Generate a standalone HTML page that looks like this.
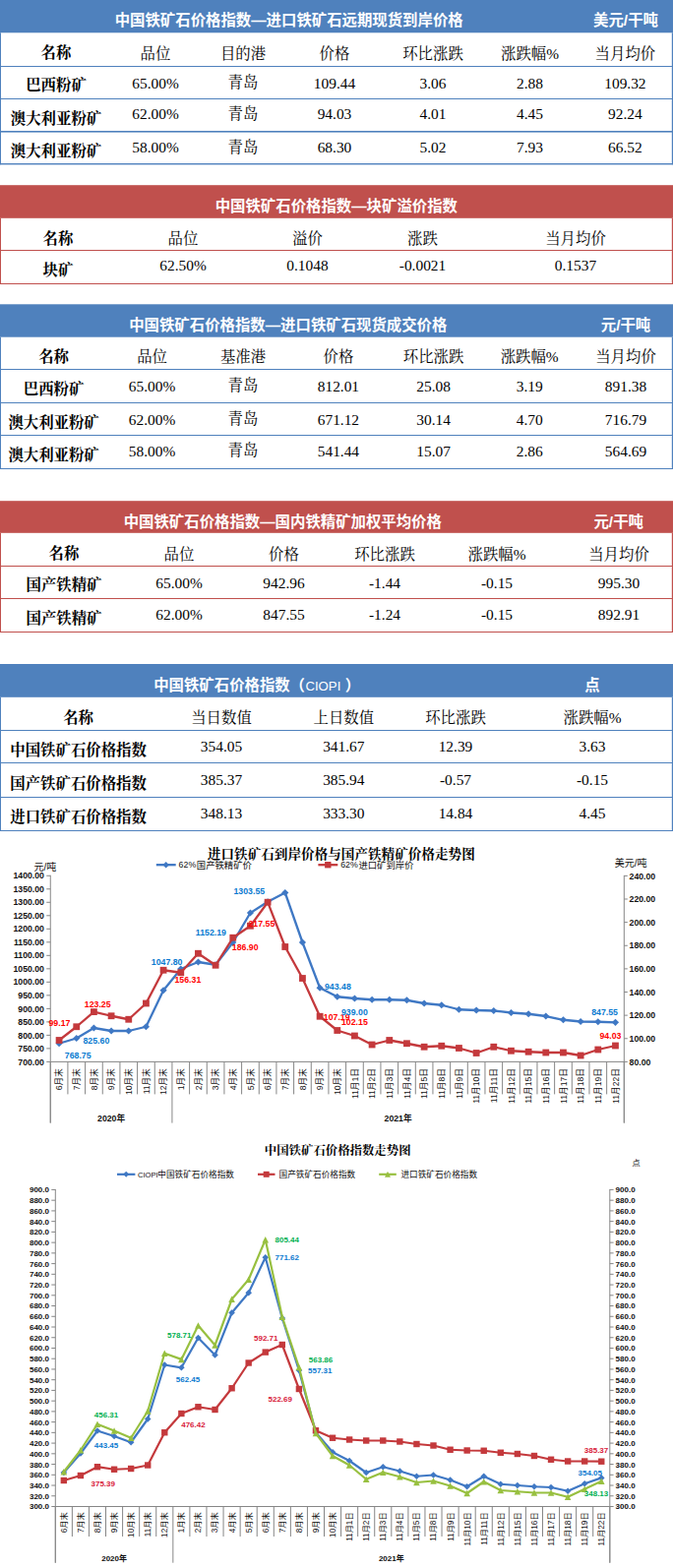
<!DOCTYPE html>
<html><head><meta charset="utf-8"><title>CIOPI</title>
<style>html,body{margin:0;padding:0;background:#fff}svg{display:block}text{font-family:"Liberation Sans","Noto Sans CJK SC",sans-serif}text.mono{font-family:"Liberation Mono",monospace}
.h text{font-family:"Liberation Sans","Noto Sans CJK SC",sans-serif;font-weight:bold;fill:#fff;font-size:15.4px}
.k text{font-family:"Liberation Serif","Noto Serif CJK SC",serif;fill:#000;font-size:15.4px}
.k text.b{font-weight:bold}
.t text{font-family:"Liberation Serif","Noto Serif CJK SC",serif;font-weight:bold;fill:#000}
.c text{font-family:"Liberation Sans","Noto Sans CJK SC",sans-serif;fill:#111}
.cb text{font-family:"Liberation Sans","Noto Sans CJK SC",sans-serif;fill:#111;font-weight:bold}
.d text{font-family:"Liberation Sans","Noto Sans CJK SC",sans-serif;font-weight:bold}
</style>
</head><body>
<svg width="684" height="1594" viewBox="0 0 684 1594">
<rect width="684" height="1594" fill="#fff"/>
<rect x="0" y="0" width="684" height="33.3" fill="#4F81BD"/>
<rect x="0" y="33.3" width="1" height="134.0" fill="#4F81BD"/>
<rect x="682.8" y="33.3" width="1.2" height="134.0" fill="#4F81BD"/>
<rect x="0" y="67" width="684" height="1" fill="#4F81BD"/>
<rect x="0" y="100" width="684" height="1" fill="#4F81BD"/>
<rect x="0" y="133" width="684" height="1.6" fill="#4F81BD"/>
<rect x="0" y="166" width="684" height="1.4" fill="#4F81BD"/>
<g class="h"><text x="116.7" y="26.2">中国铁矿石价格指数—进口铁矿石远期现货到岸价格</text><text x="636.0" y="26.2" text-anchor="middle">美元/干吨</text></g>
<g class="k" text-anchor="middle">
<text class="b" x="57.0" y="59.4">名称</text><text x="158.0" y="59.6">品位</text><text x="247.0" y="59.6">目的港</text><text x="340.0" y="59.6">价格</text><text x="440.0" y="59.6">环比涨跌</text><text x="538.5" y="59.6">涨跌幅%</text><text x="635.4" y="59.6">当月均价</text>
<text class="b" x="57.0" y="91.9">巴西粉矿</text><text x="158.0" y="89.8">65.00%</text><text x="247.0" y="89.4">青岛</text><text x="340.0" y="89.8">109.44</text><text x="440.0" y="89.8">3.06</text><text x="538.5" y="89.8">2.88</text><text x="635.4" y="89.8">109.32</text>
<text class="b" x="57.0" y="125.8">澳大利亚粉矿</text><text x="158.0" y="121.3">62.00%</text><text x="247.0" y="120.9">青岛</text><text x="340.0" y="121.3">94.03</text><text x="440.0" y="121.3">4.01</text><text x="538.5" y="121.3">4.45</text><text x="635.4" y="121.3">92.24</text>
<text class="b" x="57.0" y="158.8">澳大利亚粉矿</text><text x="158.0" y="155.0">58.00%</text><text x="247.0" y="154.6">青岛</text><text x="340.0" y="155.0">68.30</text><text x="440.0" y="155.0">5.02</text><text x="538.5" y="155.0">7.93</text><text x="635.4" y="155.0">66.52</text>
</g>
<rect x="0" y="188.2" width="684" height="33.60000000000002" fill="#C0504D"/>
<rect x="0" y="221.8" width="1" height="66.80000000000001" fill="#C0504D"/>
<rect x="682.8" y="221.8" width="1.2" height="66.80000000000001" fill="#C0504D"/>
<rect x="0" y="254" width="684" height="1" fill="#C0504D"/>
<rect x="0" y="288" width="684" height="1" fill="#C0504D"/>
<g class="h"><text x="218.7" y="215.1">中国铁矿石价格指数—块矿溢价指数</text></g>
<g class="k" text-anchor="middle">
<text class="b" x="59.0" y="247.5">名称</text><text x="186.0" y="247.7">品位</text><text x="312.5" y="247.7">溢价</text><text x="429.5" y="247.7">涨跌</text><text x="585.0" y="247.7">当月均价</text>
<text class="b" x="59.0" y="280.4">块矿</text><text x="186.0" y="275.4">62.50%</text><text x="312.5" y="275.4">0.1048</text><text x="429.5" y="275.4">-0.0021</text><text x="585.0" y="275.4">0.1537</text>
</g>
<rect x="0" y="309.3" width="684" height="33.39999999999998" fill="#4F81BD"/>
<rect x="0" y="342.7" width="1" height="134.0" fill="#4F81BD"/>
<rect x="682.8" y="342.7" width="1.2" height="134.0" fill="#4F81BD"/>
<rect x="0" y="375" width="684" height="1" fill="#4F81BD"/>
<rect x="0" y="409" width="684" height="1" fill="#4F81BD"/>
<rect x="0" y="442" width="684" height="1" fill="#4F81BD"/>
<rect x="0" y="476" width="684" height="1" fill="#4F81BD"/>
<g class="h"><text x="131.2" y="336.1">中国铁矿石价格指数—进口铁矿石现货成交价格</text><text x="636.0" y="336.1" text-anchor="middle">元/干吨</text></g>
<g class="k" text-anchor="middle">
<text class="b" x="54.6" y="368.0">名称</text><text x="154.6" y="368.2">品位</text><text x="247.0" y="368.2">基准港</text><text x="343.9" y="368.2">价格</text><text x="440.6" y="368.2">环比涨跌</text><text x="538.2" y="368.2">涨跌幅%</text><text x="636.0" y="368.2">当月均价</text>
<text class="b" x="54.6" y="401.3">巴西粉矿</text><text x="154.6" y="397.5">65.00%</text><text x="247.0" y="397.1">青岛</text><text x="343.9" y="397.5">812.01</text><text x="440.6" y="397.5">25.08</text><text x="538.2" y="397.5">3.19</text><text x="636.0" y="397.5">891.38</text>
<text class="b" x="54.6" y="435.0">澳大利亚粉矿</text><text x="154.6" y="431.7">62.00%</text><text x="247.0" y="431.3">青岛</text><text x="343.9" y="431.7">671.12</text><text x="440.6" y="431.7">30.14</text><text x="538.2" y="431.7">4.70</text><text x="636.0" y="431.7">716.79</text>
<text class="b" x="54.6" y="468.3">澳大利亚粉矿</text><text x="154.6" y="463.5">58.00%</text><text x="247.0" y="463.1">青岛</text><text x="343.9" y="463.5">541.44</text><text x="440.6" y="463.5">15.07</text><text x="538.2" y="463.5">2.86</text><text x="636.0" y="463.5">564.69</text>
</g>
<rect x="0" y="509.2" width="684" height="32.599999999999966" fill="#C0504D"/>
<rect x="0" y="541.8" width="1" height="100.70000000000005" fill="#C0504D"/>
<rect x="682.8" y="541.8" width="1.2" height="100.70000000000005" fill="#C0504D"/>
<rect x="0" y="575" width="684" height="1" fill="#C0504D"/>
<rect x="0" y="608" width="684" height="1" fill="#C0504D"/>
<rect x="0" y="642" width="684" height="1" fill="#C0504D"/>
<g class="h"><text x="125.7" y="535.6">中国铁矿石价格指数—国内铁精矿加权平均价格</text><text x="628.7" y="535.6" text-anchor="middle">元/干吨</text></g>
<g class="k" text-anchor="middle">
<text class="b" x="65.0" y="568.3">名称</text><text x="182.0" y="568.5">品位</text><text x="288.5" y="568.5">价格</text><text x="391.0" y="568.5">环比涨跌</text><text x="505.0" y="568.5">涨跌幅%</text><text x="629.0" y="568.5">当月均价</text>
<text class="b" x="65.0" y="600.2">国产铁精矿</text><text x="182.0" y="597.9">65.00%</text><text x="288.5" y="597.9">942.96</text><text x="391.0" y="597.9">-1.44</text><text x="505.0" y="597.9">-0.15</text><text x="629.0" y="597.9">995.30</text>
<text class="b" x="65.0" y="634.0">国产铁精矿</text><text x="182.0" y="630.3">62.00%</text><text x="288.5" y="630.3">847.55</text><text x="391.0" y="630.3">-1.24</text><text x="505.0" y="630.3">-0.15</text><text x="629.0" y="630.3">892.91</text>
</g>
<rect x="0" y="675" width="684" height="33.799999999999955" fill="#4F81BD"/>
<rect x="0" y="708.8" width="1" height="135.9000000000001" fill="#4F81BD"/>
<rect x="682.8" y="708.8" width="1.2" height="135.9000000000001" fill="#4F81BD"/>
<rect x="0" y="742" width="684" height="1" fill="#4F81BD"/>
<rect x="0" y="775" width="684" height="1" fill="#4F81BD"/>
<rect x="0" y="810" width="684" height="1" fill="#4F81BD"/>
<rect x="0" y="844" width="684" height="1" fill="#4F81BD"/>
<g class="h"><text x="156.2" y="701.8">中国铁矿石价格指数</text><text x="294.5" y="701.8">（</text><text x="310.4" y="702" style="font-size:13.2px;font-weight:normal">CIOPI</text><text x="350.8" y="701.8">）</text><text x="602.0" y="701.8" text-anchor="middle">点</text></g>
<g class="k" text-anchor="middle">
<text class="b" x="79.6" y="734.5">名称</text><text x="225.0" y="734.7">当日数值</text><text x="349.3" y="734.7">上日数值</text><text x="463.0" y="734.7">环比涨跌</text><text x="602.0" y="734.7">涨跌幅%</text>
<text class="b" x="79.6" y="767.7">中国铁矿石价格指数</text><text x="225.0" y="764.1">354.05</text><text x="349.3" y="764.1">341.67</text><text x="463.0" y="764.1">12.39</text><text x="602.0" y="764.1">3.63</text>
<text class="b" x="79.6" y="801.9">国产铁矿石价格指数</text><text x="225.0" y="797.8">385.37</text><text x="349.3" y="797.8">385.94</text><text x="463.0" y="797.8">-0.57</text><text x="602.0" y="797.8">-0.15</text>
<text class="b" x="79.6" y="835.6">进口铁矿石价格指数</text><text x="225.0" y="831.9">348.13</text><text x="349.3" y="831.9">333.30</text><text x="463.0" y="831.9">14.84</text><text x="602.0" y="831.9">4.45</text>
</g>
<g class="t"><text x="346.8" y="872.8" font-size="13.6" text-anchor="middle">进口铁矿石到岸价格与国产铁精矿价格走势图</text></g>
<line x1="51.25" y1="889.7600000000001" x2="51.25" y2="1141.5" stroke="#868686" stroke-width="1"/>
<line x1="47.25" y1="1079.4" x2="51.25" y2="1079.4" stroke="#868686" stroke-width="1"/>
<line x1="47.25" y1="1065.89" x2="51.25" y2="1065.89" stroke="#868686" stroke-width="1"/>
<line x1="47.25" y1="1052.38" x2="51.25" y2="1052.38" stroke="#868686" stroke-width="1"/>
<line x1="47.25" y1="1038.8700000000001" x2="51.25" y2="1038.8700000000001" stroke="#868686" stroke-width="1"/>
<line x1="47.25" y1="1025.3600000000001" x2="51.25" y2="1025.3600000000001" stroke="#868686" stroke-width="1"/>
<line x1="47.25" y1="1011.8500000000001" x2="51.25" y2="1011.8500000000001" stroke="#868686" stroke-width="1"/>
<line x1="47.25" y1="998.3400000000001" x2="51.25" y2="998.3400000000001" stroke="#868686" stroke-width="1"/>
<line x1="47.25" y1="984.8300000000002" x2="51.25" y2="984.8300000000002" stroke="#868686" stroke-width="1"/>
<line x1="47.25" y1="971.32" x2="51.25" y2="971.32" stroke="#868686" stroke-width="1"/>
<line x1="47.25" y1="957.8100000000001" x2="51.25" y2="957.8100000000001" stroke="#868686" stroke-width="1"/>
<line x1="47.25" y1="944.3000000000001" x2="51.25" y2="944.3000000000001" stroke="#868686" stroke-width="1"/>
<line x1="47.25" y1="930.7900000000001" x2="51.25" y2="930.7900000000001" stroke="#868686" stroke-width="1"/>
<line x1="47.25" y1="917.2800000000001" x2="51.25" y2="917.2800000000001" stroke="#868686" stroke-width="1"/>
<line x1="47.25" y1="903.7700000000001" x2="51.25" y2="903.7700000000001" stroke="#868686" stroke-width="1"/>
<line x1="47.25" y1="890.2600000000001" x2="51.25" y2="890.2600000000001" stroke="#868686" stroke-width="1"/>
<line x1="634.3" y1="889.8600000000001" x2="634.3" y2="1141.5" stroke="#868686" stroke-width="1"/>
<line x1="634.3" y1="1079.4" x2="637.8" y2="1079.4" stroke="#868686" stroke-width="1"/>
<line x1="634.3" y1="1055.77" x2="637.8" y2="1055.77" stroke="#868686" stroke-width="1"/>
<line x1="634.3" y1="1032.14" x2="637.8" y2="1032.14" stroke="#868686" stroke-width="1"/>
<line x1="634.3" y1="1008.5100000000001" x2="637.8" y2="1008.5100000000001" stroke="#868686" stroke-width="1"/>
<line x1="634.3" y1="984.8800000000001" x2="637.8" y2="984.8800000000001" stroke="#868686" stroke-width="1"/>
<line x1="634.3" y1="961.2500000000001" x2="637.8" y2="961.2500000000001" stroke="#868686" stroke-width="1"/>
<line x1="634.3" y1="937.6200000000001" x2="637.8" y2="937.6200000000001" stroke="#868686" stroke-width="1"/>
<line x1="634.3" y1="913.9900000000001" x2="637.8" y2="913.9900000000001" stroke="#868686" stroke-width="1"/>
<line x1="634.3" y1="890.3600000000001" x2="637.8" y2="890.3600000000001" stroke="#868686" stroke-width="1"/>
<line x1="51.25" y1="1079.4" x2="634.3" y2="1079.4" stroke="#868686" stroke-width="1"/>
<line x1="51.25" y1="1079.4" x2="51.25" y2="1141.6" stroke="#868686" stroke-width="1"/>
<line x1="68.91818181818182" y1="1079.4" x2="68.91818181818182" y2="1112.4" stroke="#868686" stroke-width="1"/>
<line x1="86.58636363636364" y1="1079.4" x2="86.58636363636364" y2="1112.4" stroke="#868686" stroke-width="1"/>
<line x1="104.25454545454545" y1="1079.4" x2="104.25454545454545" y2="1112.4" stroke="#868686" stroke-width="1"/>
<line x1="121.92272727272727" y1="1079.4" x2="121.92272727272727" y2="1112.4" stroke="#868686" stroke-width="1"/>
<line x1="139.5909090909091" y1="1079.4" x2="139.5909090909091" y2="1112.4" stroke="#868686" stroke-width="1"/>
<line x1="157.2590909090909" y1="1079.4" x2="157.2590909090909" y2="1112.4" stroke="#868686" stroke-width="1"/>
<line x1="174.92727272727274" y1="1079.4" x2="174.92727272727274" y2="1141.6" stroke="#868686" stroke-width="1"/>
<line x1="192.59545454545454" y1="1079.4" x2="192.59545454545454" y2="1112.4" stroke="#868686" stroke-width="1"/>
<line x1="210.26363636363635" y1="1079.4" x2="210.26363636363635" y2="1112.4" stroke="#868686" stroke-width="1"/>
<line x1="227.9318181818182" y1="1079.4" x2="227.9318181818182" y2="1112.4" stroke="#868686" stroke-width="1"/>
<line x1="245.6" y1="1079.4" x2="245.6" y2="1112.4" stroke="#868686" stroke-width="1"/>
<line x1="263.2681818181818" y1="1079.4" x2="263.2681818181818" y2="1112.4" stroke="#868686" stroke-width="1"/>
<line x1="280.93636363636364" y1="1079.4" x2="280.93636363636364" y2="1112.4" stroke="#868686" stroke-width="1"/>
<line x1="298.6045454545455" y1="1079.4" x2="298.6045454545455" y2="1112.4" stroke="#868686" stroke-width="1"/>
<line x1="316.27272727272725" y1="1079.4" x2="316.27272727272725" y2="1112.4" stroke="#868686" stroke-width="1"/>
<line x1="333.9409090909091" y1="1079.4" x2="333.9409090909091" y2="1112.4" stroke="#868686" stroke-width="1"/>
<line x1="351.6090909090909" y1="1079.4" x2="351.6090909090909" y2="1112.4" stroke="#868686" stroke-width="1"/>
<line x1="369.2772727272727" y1="1079.4" x2="369.2772727272727" y2="1112.4" stroke="#868686" stroke-width="1"/>
<line x1="386.94545454545454" y1="1079.4" x2="386.94545454545454" y2="1112.4" stroke="#868686" stroke-width="1"/>
<line x1="404.6136363636364" y1="1079.4" x2="404.6136363636364" y2="1112.4" stroke="#868686" stroke-width="1"/>
<line x1="422.28181818181815" y1="1079.4" x2="422.28181818181815" y2="1112.4" stroke="#868686" stroke-width="1"/>
<line x1="439.95" y1="1079.4" x2="439.95" y2="1112.4" stroke="#868686" stroke-width="1"/>
<line x1="457.6181818181818" y1="1079.4" x2="457.6181818181818" y2="1112.4" stroke="#868686" stroke-width="1"/>
<line x1="475.2863636363636" y1="1079.4" x2="475.2863636363636" y2="1112.4" stroke="#868686" stroke-width="1"/>
<line x1="492.95454545454544" y1="1079.4" x2="492.95454545454544" y2="1112.4" stroke="#868686" stroke-width="1"/>
<line x1="510.6227272727273" y1="1079.4" x2="510.6227272727273" y2="1112.4" stroke="#868686" stroke-width="1"/>
<line x1="528.290909090909" y1="1079.4" x2="528.290909090909" y2="1112.4" stroke="#868686" stroke-width="1"/>
<line x1="545.959090909091" y1="1079.4" x2="545.959090909091" y2="1112.4" stroke="#868686" stroke-width="1"/>
<line x1="563.6272727272727" y1="1079.4" x2="563.6272727272727" y2="1112.4" stroke="#868686" stroke-width="1"/>
<line x1="581.2954545454545" y1="1079.4" x2="581.2954545454545" y2="1112.4" stroke="#868686" stroke-width="1"/>
<line x1="598.9636363636364" y1="1079.4" x2="598.9636363636364" y2="1112.4" stroke="#868686" stroke-width="1"/>
<line x1="616.6318181818182" y1="1079.4" x2="616.6318181818182" y2="1112.4" stroke="#868686" stroke-width="1"/>
<line x1="634.3" y1="1079.4" x2="634.3" y2="1141.6" stroke="#868686" stroke-width="1"/>
<polyline points="60.08,1060.75 77.75,1055.50 95.42,1045.00 113.09,1048.00 130.76,1048.00 148.43,1043.75 166.09,1006.75 183.76,985.00 201.43,978.00 219.10,980.75 236.77,958.00 254.43,928.00 272.10,916.75 289.77,907.50 307.44,958.00 325.11,1004.25 342.77,1013.25 360.44,1015.00 378.11,1016.25 395.78,1016.25 413.45,1016.75 431.12,1020.00 448.78,1021.75 466.45,1026.25 484.12,1027.00 501.79,1027.50 519.46,1029.50 537.12,1030.75 554.79,1033.00 572.46,1036.75 590.13,1038.50 607.80,1038.75 625.47,1039.30" fill="none" stroke="#3F78C4" stroke-width="2.3" stroke-linejoin="round" stroke-linecap="round"/>
<path d="M60.08,1057.15L63.68,1060.75L60.08,1064.35L56.48,1060.75Z" fill="#3F78C4"/>
<path d="M77.75,1051.90L81.35,1055.50L77.75,1059.10L74.15,1055.50Z" fill="#3F78C4"/>
<path d="M95.42,1041.40L99.02,1045.00L95.42,1048.60L91.82,1045.00Z" fill="#3F78C4"/>
<path d="M113.09,1044.40L116.69,1048.00L113.09,1051.60L109.49,1048.00Z" fill="#3F78C4"/>
<path d="M130.76,1044.40L134.36,1048.00L130.76,1051.60L127.16,1048.00Z" fill="#3F78C4"/>
<path d="M148.43,1040.15L152.03,1043.75L148.43,1047.35L144.83,1043.75Z" fill="#3F78C4"/>
<path d="M166.09,1003.15L169.69,1006.75L166.09,1010.35L162.49,1006.75Z" fill="#3F78C4"/>
<path d="M183.76,981.40L187.36,985.00L183.76,988.60L180.16,985.00Z" fill="#3F78C4"/>
<path d="M201.43,974.40L205.03,978.00L201.43,981.60L197.83,978.00Z" fill="#3F78C4"/>
<path d="M219.10,977.15L222.70,980.75L219.10,984.35L215.50,980.75Z" fill="#3F78C4"/>
<path d="M236.77,954.40L240.37,958.00L236.77,961.60L233.17,958.00Z" fill="#3F78C4"/>
<path d="M254.43,924.40L258.03,928.00L254.43,931.60L250.83,928.00Z" fill="#3F78C4"/>
<path d="M272.10,913.15L275.70,916.75L272.10,920.35L268.50,916.75Z" fill="#3F78C4"/>
<path d="M289.77,903.90L293.37,907.50L289.77,911.10L286.17,907.50Z" fill="#3F78C4"/>
<path d="M307.44,954.40L311.04,958.00L307.44,961.60L303.84,958.00Z" fill="#3F78C4"/>
<path d="M325.11,1000.65L328.71,1004.25L325.11,1007.85L321.51,1004.25Z" fill="#3F78C4"/>
<path d="M342.77,1009.65L346.38,1013.25L342.77,1016.85L339.17,1013.25Z" fill="#3F78C4"/>
<path d="M360.44,1011.40L364.04,1015.00L360.44,1018.60L356.84,1015.00Z" fill="#3F78C4"/>
<path d="M378.11,1012.65L381.71,1016.25L378.11,1019.85L374.51,1016.25Z" fill="#3F78C4"/>
<path d="M395.78,1012.65L399.38,1016.25L395.78,1019.85L392.18,1016.25Z" fill="#3F78C4"/>
<path d="M413.45,1013.15L417.05,1016.75L413.45,1020.35L409.85,1016.75Z" fill="#3F78C4"/>
<path d="M431.12,1016.40L434.72,1020.00L431.12,1023.60L427.52,1020.00Z" fill="#3F78C4"/>
<path d="M448.78,1018.15L452.38,1021.75L448.78,1025.35L445.18,1021.75Z" fill="#3F78C4"/>
<path d="M466.45,1022.65L470.05,1026.25L466.45,1029.85L462.85,1026.25Z" fill="#3F78C4"/>
<path d="M484.12,1023.40L487.72,1027.00L484.12,1030.60L480.52,1027.00Z" fill="#3F78C4"/>
<path d="M501.79,1023.90L505.39,1027.50L501.79,1031.10L498.19,1027.50Z" fill="#3F78C4"/>
<path d="M519.46,1025.90L523.06,1029.50L519.46,1033.10L515.86,1029.50Z" fill="#3F78C4"/>
<path d="M537.12,1027.15L540.73,1030.75L537.12,1034.35L533.52,1030.75Z" fill="#3F78C4"/>
<path d="M554.79,1029.40L558.39,1033.00L554.79,1036.60L551.19,1033.00Z" fill="#3F78C4"/>
<path d="M572.46,1033.15L576.06,1036.75L572.46,1040.35L568.86,1036.75Z" fill="#3F78C4"/>
<path d="M590.13,1034.90L593.73,1038.50L590.13,1042.10L586.53,1038.50Z" fill="#3F78C4"/>
<path d="M607.80,1035.15L611.40,1038.75L607.80,1042.35L604.20,1038.75Z" fill="#3F78C4"/>
<path d="M625.47,1035.70L629.07,1039.30L625.47,1042.90L621.87,1039.30Z" fill="#3F78C4"/>
<polyline points="60.08,1057.50 77.75,1043.75 95.42,1028.60 113.09,1032.75 130.76,1036.25 148.43,1020.00 166.09,986.25 183.76,988.75 201.43,969.25 219.10,981.25 236.77,953.25 254.43,941.25 272.10,917.20 289.77,962.50 307.44,994.50 325.11,1033.25 342.77,1047.50 360.44,1053.00 378.11,1062.00 395.78,1057.50 413.45,1060.75 431.12,1064.25 448.78,1063.25 466.45,1065.50 484.12,1070.50 501.79,1064.25 519.46,1068.25 537.12,1069.25 554.79,1070.00 572.46,1070.00 590.13,1073.00 607.80,1067.00 625.47,1063.00" fill="none" stroke="#C4393C" stroke-width="2.3" stroke-linejoin="round" stroke-linecap="round"/>
<rect x="56.68" y="1054.10" width="6.80" height="6.80" fill="#C4393C"/>
<rect x="74.35" y="1040.35" width="6.80" height="6.80" fill="#C4393C"/>
<rect x="92.02" y="1025.20" width="6.80" height="6.80" fill="#C4393C"/>
<rect x="109.69" y="1029.35" width="6.80" height="6.80" fill="#C4393C"/>
<rect x="127.36" y="1032.85" width="6.80" height="6.80" fill="#C4393C"/>
<rect x="145.03" y="1016.60" width="6.80" height="6.80" fill="#C4393C"/>
<rect x="162.69" y="982.85" width="6.80" height="6.80" fill="#C4393C"/>
<rect x="180.36" y="985.35" width="6.80" height="6.80" fill="#C4393C"/>
<rect x="198.03" y="965.85" width="6.80" height="6.80" fill="#C4393C"/>
<rect x="215.70" y="977.85" width="6.80" height="6.80" fill="#C4393C"/>
<rect x="233.37" y="949.85" width="6.80" height="6.80" fill="#C4393C"/>
<rect x="251.03" y="937.85" width="6.80" height="6.80" fill="#C4393C"/>
<rect x="268.70" y="913.80" width="6.80" height="6.80" fill="#C4393C"/>
<rect x="286.37" y="959.10" width="6.80" height="6.80" fill="#C4393C"/>
<rect x="304.04" y="991.10" width="6.80" height="6.80" fill="#C4393C"/>
<rect x="321.71" y="1029.85" width="6.80" height="6.80" fill="#C4393C"/>
<rect x="339.38" y="1044.10" width="6.80" height="6.80" fill="#C4393C"/>
<rect x="357.04" y="1049.60" width="6.80" height="6.80" fill="#C4393C"/>
<rect x="374.71" y="1058.60" width="6.80" height="6.80" fill="#C4393C"/>
<rect x="392.38" y="1054.10" width="6.80" height="6.80" fill="#C4393C"/>
<rect x="410.05" y="1057.35" width="6.80" height="6.80" fill="#C4393C"/>
<rect x="427.72" y="1060.85" width="6.80" height="6.80" fill="#C4393C"/>
<rect x="445.38" y="1059.85" width="6.80" height="6.80" fill="#C4393C"/>
<rect x="463.05" y="1062.10" width="6.80" height="6.80" fill="#C4393C"/>
<rect x="480.72" y="1067.10" width="6.80" height="6.80" fill="#C4393C"/>
<rect x="498.39" y="1060.85" width="6.80" height="6.80" fill="#C4393C"/>
<rect x="516.06" y="1064.85" width="6.80" height="6.80" fill="#C4393C"/>
<rect x="533.73" y="1065.85" width="6.80" height="6.80" fill="#C4393C"/>
<rect x="551.39" y="1066.60" width="6.80" height="6.80" fill="#C4393C"/>
<rect x="569.06" y="1066.60" width="6.80" height="6.80" fill="#C4393C"/>
<rect x="586.73" y="1069.60" width="6.80" height="6.80" fill="#C4393C"/>
<rect x="604.40" y="1063.60" width="6.80" height="6.80" fill="#C4393C"/>
<rect x="622.07" y="1059.60" width="6.80" height="6.80" fill="#C4393C"/>
<line x1="158.8" y1="879.2" x2="178.7" y2="879.2" stroke="#3F78C4" stroke-width="2.3"/>
<path d="M168.70,876.00L171.90,879.20L168.70,882.40L165.50,879.20Z" fill="#3F78C4"/>
<line x1="323.4" y1="879.2" x2="343.3" y2="879.2" stroke="#C4393C" stroke-width="2.3"/>
<rect x="330.10" y="876.00" width="6.40" height="6.40" fill="#C4393C"/>
<g class="cb" font-size="8.7" text-anchor="end">
<text x="44.9" y="1082.5">700.00</text><text x="44.9" y="1069.0">750.00</text><text x="44.9" y="1055.5">800.00</text><text x="44.9" y="1042.0">850.00</text><text x="44.9" y="1028.5">900.00</text><text x="44.9" y="1015.0">950.00</text><text x="44.9" y="1001.4">1000.00</text><text x="44.9" y="987.9">1050.00</text><text x="44.9" y="974.4">1100.00</text><text x="44.9" y="960.9">1150.00</text><text x="44.9" y="947.4">1200.00</text><text x="44.9" y="933.9">1250.00</text><text x="44.9" y="920.4">1300.00</text><text x="44.9" y="906.9">1350.00</text><text x="44.9" y="893.4">1400.00</text>
</g>
<g class="cb" font-size="8.7" text-anchor="start">
<text x="639.6" y="1082.5">80.00</text><text x="639.6" y="1058.9">100.00</text><text x="639.6" y="1035.2">120.00</text><text x="639.6" y="1011.6">140.00</text><text x="639.6" y="988.0">160.00</text><text x="639.6" y="964.4">180.00</text><text x="639.6" y="940.7">200.00</text><text x="639.6" y="917.1">220.00</text><text x="639.6" y="893.5">240.00</text>
</g>
<g class="c" font-size="10" text-anchor="middle"><text x="45.9" y="885.0">元/吨</text><text x="641.2" y="881.3">美元/吨</text></g>
<g class="c" font-size="8.6" text-anchor="end">
<text x="63.18" y="1086.2" transform="rotate(-90,63.18,1086.2)">6月末</text>
<text x="80.85" y="1086.2" transform="rotate(-90,80.85,1086.2)">7月末</text>
<text x="98.52" y="1086.2" transform="rotate(-90,98.52,1086.2)">8月末</text>
<text x="116.18" y="1086.2" transform="rotate(-90,116.18,1086.2)">9月末</text>
<text x="133.85" y="1086.2" transform="rotate(-90,133.85,1086.2)">10月末</text>
<text x="151.52" y="1086.2" transform="rotate(-90,151.52,1086.2)">11月末</text>
<text x="169.19" y="1086.2" transform="rotate(-90,169.19,1086.2)">12月末</text>
<text x="186.86" y="1086.2" transform="rotate(-90,186.86,1086.2)">1月末</text>
<text x="204.53" y="1086.2" transform="rotate(-90,204.53,1086.2)">2月末</text>
<text x="222.19" y="1086.2" transform="rotate(-90,222.19,1086.2)">3月末</text>
<text x="239.86" y="1086.2" transform="rotate(-90,239.86,1086.2)">4月末</text>
<text x="257.53" y="1086.2" transform="rotate(-90,257.53,1086.2)">5月末</text>
<text x="275.20" y="1086.2" transform="rotate(-90,275.20,1086.2)">6月末</text>
<text x="292.87" y="1086.2" transform="rotate(-90,292.87,1086.2)">7月末</text>
<text x="310.53" y="1086.2" transform="rotate(-90,310.53,1086.2)">8月末</text>
<text x="328.20" y="1086.2" transform="rotate(-90,328.20,1086.2)">9月末</text>
<text x="345.87" y="1086.2" transform="rotate(-90,345.87,1086.2)">10月末</text>
<text x="363.54" y="1086.2" transform="rotate(-90,363.54,1086.2)">11月1日</text>
<text x="381.21" y="1086.2" transform="rotate(-90,381.21,1086.2)">11月2日</text>
<text x="398.88" y="1086.2" transform="rotate(-90,398.88,1086.2)">11月3日</text>
<text x="416.54" y="1086.2" transform="rotate(-90,416.54,1086.2)">11月4日</text>
<text x="434.21" y="1086.2" transform="rotate(-90,434.21,1086.2)">11月5日</text>
<text x="451.88" y="1086.2" transform="rotate(-90,451.88,1086.2)">11月8日</text>
<text x="469.55" y="1086.2" transform="rotate(-90,469.55,1086.2)">11月9日</text>
<text x="487.22" y="1086.2" transform="rotate(-90,487.22,1086.2)">11月10日</text>
<text x="504.88" y="1086.2" transform="rotate(-90,504.88,1086.2)">11月11日</text>
<text x="522.55" y="1086.2" transform="rotate(-90,522.55,1086.2)">11月12日</text>
<text x="540.22" y="1086.2" transform="rotate(-90,540.22,1086.2)">11月15日</text>
<text x="557.89" y="1086.2" transform="rotate(-90,557.89,1086.2)">11月16日</text>
<text x="575.56" y="1086.2" transform="rotate(-90,575.56,1086.2)">11月17日</text>
<text x="593.23" y="1086.2" transform="rotate(-90,593.23,1086.2)">11月18日</text>
<text x="610.89" y="1086.2" transform="rotate(-90,610.89,1086.2)">11月19日</text>
<text x="628.56" y="1086.2" transform="rotate(-90,628.56,1086.2)">11月22日</text>
</g>
<g class="cb" font-size="8.7" text-anchor="middle"><text x="113.1" y="1140.2">2020年</text><text x="404.6" y="1140.2">2021年</text></g>
<g class="c"><text x="181.6" y="882.4" font-size="8.8">62%</text><text x="199.8" y="882.6" font-size="9.35">国产铁精矿价</text><text x="346.2" y="882.4" font-size="8.8">62%</text><text x="364.4" y="882.6" font-size="9.35">进口矿到岸价</text></g>
<g class="d" font-size="8.75">
<text x="49.5" y="1042.7" fill="#FF0000">99.17</text>
<text x="85.8" y="1023.9" fill="#FF0000">123.25</text>
<text x="84.5" y="1061.4" fill="#0A7AD0">825.60</text>
<text x="65.8" y="1076.2" fill="#0A7AD0">768.75</text>
<text x="153.8" y="980.6" fill="#0A7AD0">1047.80</text>
<text x="177.5" y="999.4" fill="#FF0000">156.31</text>
<text x="237.5" y="908.9" fill="#0A7AD0">1303.55</text>
<text x="198.8" y="951.1" fill="#0A7AD0">1152.19</text>
<text x="252.5" y="942.4" fill="#FF0000">217.55</text>
<text x="235.8" y="966.4" fill="#FF0000">186.90</text>
<text x="330.0" y="1006.1" fill="#0A7AD0">943.48</text>
<text x="328.8" y="1037.4" fill="#FF0000">107.19</text>
<text x="347.0" y="1032.4" fill="#0A7AD0">939.00</text>
<text x="347.0" y="1042.4" fill="#FF0000">102.15</text>
<text x="601.2" y="1032.4" fill="#0A7AD0">847.55</text>
<text x="609.5" y="1055.7" fill="#FF0000">94.03</text>
</g>
<g class="t"><text x="343.2" y="1174.2" font-size="12.4" text-anchor="middle">中国铁矿石价格指数走势图</text></g>
<line x1="56.3" y1="1208.95" x2="56.3" y2="1588.7" stroke="#868686" stroke-width="1"/>
<line x1="619.8" y1="1208.95" x2="619.8" y2="1588.7" stroke="#868686" stroke-width="1"/>
<line x1="52.3" y1="1531.5" x2="56.3" y2="1531.5" stroke="#868686" stroke-width="1"/>
<line x1="619.8" y1="1531.5" x2="623.5999999999999" y2="1531.5" stroke="#868686" stroke-width="1"/>
<line x1="52.3" y1="1520.765" x2="56.3" y2="1520.765" stroke="#868686" stroke-width="1"/>
<line x1="619.8" y1="1520.765" x2="623.5999999999999" y2="1520.765" stroke="#868686" stroke-width="1"/>
<line x1="52.3" y1="1510.03" x2="56.3" y2="1510.03" stroke="#868686" stroke-width="1"/>
<line x1="619.8" y1="1510.03" x2="623.5999999999999" y2="1510.03" stroke="#868686" stroke-width="1"/>
<line x1="52.3" y1="1499.295" x2="56.3" y2="1499.295" stroke="#868686" stroke-width="1"/>
<line x1="619.8" y1="1499.295" x2="623.5999999999999" y2="1499.295" stroke="#868686" stroke-width="1"/>
<line x1="52.3" y1="1488.56" x2="56.3" y2="1488.56" stroke="#868686" stroke-width="1"/>
<line x1="619.8" y1="1488.56" x2="623.5999999999999" y2="1488.56" stroke="#868686" stroke-width="1"/>
<line x1="52.3" y1="1477.825" x2="56.3" y2="1477.825" stroke="#868686" stroke-width="1"/>
<line x1="619.8" y1="1477.825" x2="623.5999999999999" y2="1477.825" stroke="#868686" stroke-width="1"/>
<line x1="52.3" y1="1467.09" x2="56.3" y2="1467.09" stroke="#868686" stroke-width="1"/>
<line x1="619.8" y1="1467.09" x2="623.5999999999999" y2="1467.09" stroke="#868686" stroke-width="1"/>
<line x1="52.3" y1="1456.355" x2="56.3" y2="1456.355" stroke="#868686" stroke-width="1"/>
<line x1="619.8" y1="1456.355" x2="623.5999999999999" y2="1456.355" stroke="#868686" stroke-width="1"/>
<line x1="52.3" y1="1445.62" x2="56.3" y2="1445.62" stroke="#868686" stroke-width="1"/>
<line x1="619.8" y1="1445.62" x2="623.5999999999999" y2="1445.62" stroke="#868686" stroke-width="1"/>
<line x1="52.3" y1="1434.885" x2="56.3" y2="1434.885" stroke="#868686" stroke-width="1"/>
<line x1="619.8" y1="1434.885" x2="623.5999999999999" y2="1434.885" stroke="#868686" stroke-width="1"/>
<line x1="52.3" y1="1424.15" x2="56.3" y2="1424.15" stroke="#868686" stroke-width="1"/>
<line x1="619.8" y1="1424.15" x2="623.5999999999999" y2="1424.15" stroke="#868686" stroke-width="1"/>
<line x1="52.3" y1="1413.415" x2="56.3" y2="1413.415" stroke="#868686" stroke-width="1"/>
<line x1="619.8" y1="1413.415" x2="623.5999999999999" y2="1413.415" stroke="#868686" stroke-width="1"/>
<line x1="52.3" y1="1402.68" x2="56.3" y2="1402.68" stroke="#868686" stroke-width="1"/>
<line x1="619.8" y1="1402.68" x2="623.5999999999999" y2="1402.68" stroke="#868686" stroke-width="1"/>
<line x1="52.3" y1="1391.945" x2="56.3" y2="1391.945" stroke="#868686" stroke-width="1"/>
<line x1="619.8" y1="1391.945" x2="623.5999999999999" y2="1391.945" stroke="#868686" stroke-width="1"/>
<line x1="52.3" y1="1381.21" x2="56.3" y2="1381.21" stroke="#868686" stroke-width="1"/>
<line x1="619.8" y1="1381.21" x2="623.5999999999999" y2="1381.21" stroke="#868686" stroke-width="1"/>
<line x1="52.3" y1="1370.475" x2="56.3" y2="1370.475" stroke="#868686" stroke-width="1"/>
<line x1="619.8" y1="1370.475" x2="623.5999999999999" y2="1370.475" stroke="#868686" stroke-width="1"/>
<line x1="52.3" y1="1359.74" x2="56.3" y2="1359.74" stroke="#868686" stroke-width="1"/>
<line x1="619.8" y1="1359.74" x2="623.5999999999999" y2="1359.74" stroke="#868686" stroke-width="1"/>
<line x1="52.3" y1="1349.005" x2="56.3" y2="1349.005" stroke="#868686" stroke-width="1"/>
<line x1="619.8" y1="1349.005" x2="623.5999999999999" y2="1349.005" stroke="#868686" stroke-width="1"/>
<line x1="52.3" y1="1338.27" x2="56.3" y2="1338.27" stroke="#868686" stroke-width="1"/>
<line x1="619.8" y1="1338.27" x2="623.5999999999999" y2="1338.27" stroke="#868686" stroke-width="1"/>
<line x1="52.3" y1="1327.535" x2="56.3" y2="1327.535" stroke="#868686" stroke-width="1"/>
<line x1="619.8" y1="1327.535" x2="623.5999999999999" y2="1327.535" stroke="#868686" stroke-width="1"/>
<line x1="52.3" y1="1316.8" x2="56.3" y2="1316.8" stroke="#868686" stroke-width="1"/>
<line x1="619.8" y1="1316.8" x2="623.5999999999999" y2="1316.8" stroke="#868686" stroke-width="1"/>
<line x1="52.3" y1="1306.065" x2="56.3" y2="1306.065" stroke="#868686" stroke-width="1"/>
<line x1="619.8" y1="1306.065" x2="623.5999999999999" y2="1306.065" stroke="#868686" stroke-width="1"/>
<line x1="52.3" y1="1295.33" x2="56.3" y2="1295.33" stroke="#868686" stroke-width="1"/>
<line x1="619.8" y1="1295.33" x2="623.5999999999999" y2="1295.33" stroke="#868686" stroke-width="1"/>
<line x1="52.3" y1="1284.595" x2="56.3" y2="1284.595" stroke="#868686" stroke-width="1"/>
<line x1="619.8" y1="1284.595" x2="623.5999999999999" y2="1284.595" stroke="#868686" stroke-width="1"/>
<line x1="52.3" y1="1273.8600000000001" x2="56.3" y2="1273.8600000000001" stroke="#868686" stroke-width="1"/>
<line x1="619.8" y1="1273.8600000000001" x2="623.5999999999999" y2="1273.8600000000001" stroke="#868686" stroke-width="1"/>
<line x1="52.3" y1="1263.125" x2="56.3" y2="1263.125" stroke="#868686" stroke-width="1"/>
<line x1="619.8" y1="1263.125" x2="623.5999999999999" y2="1263.125" stroke="#868686" stroke-width="1"/>
<line x1="52.3" y1="1252.3899999999999" x2="56.3" y2="1252.3899999999999" stroke="#868686" stroke-width="1"/>
<line x1="619.8" y1="1252.3899999999999" x2="623.5999999999999" y2="1252.3899999999999" stroke="#868686" stroke-width="1"/>
<line x1="52.3" y1="1241.655" x2="56.3" y2="1241.655" stroke="#868686" stroke-width="1"/>
<line x1="619.8" y1="1241.655" x2="623.5999999999999" y2="1241.655" stroke="#868686" stroke-width="1"/>
<line x1="52.3" y1="1230.92" x2="56.3" y2="1230.92" stroke="#868686" stroke-width="1"/>
<line x1="619.8" y1="1230.92" x2="623.5999999999999" y2="1230.92" stroke="#868686" stroke-width="1"/>
<line x1="52.3" y1="1220.185" x2="56.3" y2="1220.185" stroke="#868686" stroke-width="1"/>
<line x1="619.8" y1="1220.185" x2="623.5999999999999" y2="1220.185" stroke="#868686" stroke-width="1"/>
<line x1="52.3" y1="1209.45" x2="56.3" y2="1209.45" stroke="#868686" stroke-width="1"/>
<line x1="619.8" y1="1209.45" x2="623.5999999999999" y2="1209.45" stroke="#868686" stroke-width="1"/>
<line x1="56.3" y1="1531.5" x2="619.8" y2="1531.5" stroke="#868686" stroke-width="1"/>
<line x1="56.3" y1="1531.5" x2="56.3" y2="1588.7" stroke="#868686" stroke-width="1"/>
<line x1="73.37575757575758" y1="1531.5" x2="73.37575757575758" y2="1562" stroke="#868686" stroke-width="1"/>
<line x1="90.45151515151514" y1="1531.5" x2="90.45151515151514" y2="1562" stroke="#868686" stroke-width="1"/>
<line x1="107.52727272727272" y1="1531.5" x2="107.52727272727272" y2="1562" stroke="#868686" stroke-width="1"/>
<line x1="124.6030303030303" y1="1531.5" x2="124.6030303030303" y2="1562" stroke="#868686" stroke-width="1"/>
<line x1="141.6787878787879" y1="1531.5" x2="141.6787878787879" y2="1562" stroke="#868686" stroke-width="1"/>
<line x1="158.75454545454545" y1="1531.5" x2="158.75454545454545" y2="1562" stroke="#868686" stroke-width="1"/>
<line x1="175.830303030303" y1="1531.5" x2="175.830303030303" y2="1588.7" stroke="#868686" stroke-width="1"/>
<line x1="192.90606060606058" y1="1531.5" x2="192.90606060606058" y2="1562" stroke="#868686" stroke-width="1"/>
<line x1="209.98181818181814" y1="1531.5" x2="209.98181818181814" y2="1562" stroke="#868686" stroke-width="1"/>
<line x1="227.05757575757576" y1="1531.5" x2="227.05757575757576" y2="1562" stroke="#868686" stroke-width="1"/>
<line x1="244.13333333333333" y1="1531.5" x2="244.13333333333333" y2="1562" stroke="#868686" stroke-width="1"/>
<line x1="261.2090909090909" y1="1531.5" x2="261.2090909090909" y2="1562" stroke="#868686" stroke-width="1"/>
<line x1="278.28484848484845" y1="1531.5" x2="278.28484848484845" y2="1562" stroke="#868686" stroke-width="1"/>
<line x1="295.360606060606" y1="1531.5" x2="295.360606060606" y2="1562" stroke="#868686" stroke-width="1"/>
<line x1="312.43636363636364" y1="1531.5" x2="312.43636363636364" y2="1562" stroke="#868686" stroke-width="1"/>
<line x1="329.5121212121212" y1="1531.5" x2="329.5121212121212" y2="1562" stroke="#868686" stroke-width="1"/>
<line x1="346.58787878787876" y1="1531.5" x2="346.58787878787876" y2="1562" stroke="#868686" stroke-width="1"/>
<line x1="363.66363636363633" y1="1531.5" x2="363.66363636363633" y2="1562" stroke="#868686" stroke-width="1"/>
<line x1="380.73939393939395" y1="1531.5" x2="380.73939393939395" y2="1562" stroke="#868686" stroke-width="1"/>
<line x1="397.8151515151515" y1="1531.5" x2="397.8151515151515" y2="1562" stroke="#868686" stroke-width="1"/>
<line x1="414.8909090909091" y1="1531.5" x2="414.8909090909091" y2="1562" stroke="#868686" stroke-width="1"/>
<line x1="431.96666666666664" y1="1531.5" x2="431.96666666666664" y2="1562" stroke="#868686" stroke-width="1"/>
<line x1="449.0424242424242" y1="1531.5" x2="449.0424242424242" y2="1562" stroke="#868686" stroke-width="1"/>
<line x1="466.11818181818177" y1="1531.5" x2="466.11818181818177" y2="1562" stroke="#868686" stroke-width="1"/>
<line x1="483.1939393939394" y1="1531.5" x2="483.1939393939394" y2="1562" stroke="#868686" stroke-width="1"/>
<line x1="500.26969696969695" y1="1531.5" x2="500.26969696969695" y2="1562" stroke="#868686" stroke-width="1"/>
<line x1="517.3454545454545" y1="1531.5" x2="517.3454545454545" y2="1562" stroke="#868686" stroke-width="1"/>
<line x1="534.4212121212121" y1="1531.5" x2="534.4212121212121" y2="1562" stroke="#868686" stroke-width="1"/>
<line x1="551.4969696969696" y1="1531.5" x2="551.4969696969696" y2="1562" stroke="#868686" stroke-width="1"/>
<line x1="568.5727272727272" y1="1531.5" x2="568.5727272727272" y2="1562" stroke="#868686" stroke-width="1"/>
<line x1="585.6484848484847" y1="1531.5" x2="585.6484848484847" y2="1562" stroke="#868686" stroke-width="1"/>
<line x1="602.7242424242423" y1="1531.5" x2="602.7242424242423" y2="1562" stroke="#868686" stroke-width="1"/>
<line x1="619.8" y1="1531.5" x2="619.8" y2="1588.7" stroke="#868686" stroke-width="1"/>
<polyline points="64.84,1497.00 81.91,1477.50 98.99,1454.50 116.07,1460.00 133.14,1466.25 150.22,1442.50 167.29,1387.50 184.37,1390.30 201.44,1360.00 218.52,1377.50 235.60,1334.50 252.67,1314.25 269.75,1278.30 286.82,1340.00 303.90,1393.00 320.97,1456.25 338.05,1476.25 355.13,1485.00 372.20,1497.00 389.28,1491.25 406.35,1495.50 423.43,1500.75 440.50,1499.50 457.58,1504.50 474.66,1511.25 491.73,1500.75 508.81,1508.75 525.88,1510.00 542.96,1511.25 560.03,1512.00 577.11,1515.75 594.19,1508.25 611.26,1502.40" fill="none" stroke="#3F78C4" stroke-width="2.2" stroke-linejoin="round" stroke-linecap="round"/>
<path d="M64.84,1493.70L68.14,1497.00L64.84,1500.30L61.54,1497.00Z" fill="#3F78C4"/>
<path d="M81.91,1474.20L85.21,1477.50L81.91,1480.80L78.61,1477.50Z" fill="#3F78C4"/>
<path d="M98.99,1451.20L102.29,1454.50L98.99,1457.80L95.69,1454.50Z" fill="#3F78C4"/>
<path d="M116.07,1456.70L119.37,1460.00L116.07,1463.30L112.77,1460.00Z" fill="#3F78C4"/>
<path d="M133.14,1462.95L136.44,1466.25L133.14,1469.55L129.84,1466.25Z" fill="#3F78C4"/>
<path d="M150.22,1439.20L153.52,1442.50L150.22,1445.80L146.92,1442.50Z" fill="#3F78C4"/>
<path d="M167.29,1384.20L170.59,1387.50L167.29,1390.80L163.99,1387.50Z" fill="#3F78C4"/>
<path d="M184.37,1387.00L187.67,1390.30L184.37,1393.60L181.07,1390.30Z" fill="#3F78C4"/>
<path d="M201.44,1356.70L204.74,1360.00L201.44,1363.30L198.14,1360.00Z" fill="#3F78C4"/>
<path d="M218.52,1374.20L221.82,1377.50L218.52,1380.80L215.22,1377.50Z" fill="#3F78C4"/>
<path d="M235.60,1331.20L238.90,1334.50L235.60,1337.80L232.30,1334.50Z" fill="#3F78C4"/>
<path d="M252.67,1310.95L255.97,1314.25L252.67,1317.55L249.37,1314.25Z" fill="#3F78C4"/>
<path d="M269.75,1275.00L273.05,1278.30L269.75,1281.60L266.45,1278.30Z" fill="#3F78C4"/>
<path d="M286.82,1336.70L290.12,1340.00L286.82,1343.30L283.52,1340.00Z" fill="#3F78C4"/>
<path d="M303.90,1389.70L307.20,1393.00L303.90,1396.30L300.60,1393.00Z" fill="#3F78C4"/>
<path d="M320.97,1452.95L324.27,1456.25L320.97,1459.55L317.67,1456.25Z" fill="#3F78C4"/>
<path d="M338.05,1472.95L341.35,1476.25L338.05,1479.55L334.75,1476.25Z" fill="#3F78C4"/>
<path d="M355.13,1481.70L358.43,1485.00L355.13,1488.30L351.83,1485.00Z" fill="#3F78C4"/>
<path d="M372.20,1493.70L375.50,1497.00L372.20,1500.30L368.90,1497.00Z" fill="#3F78C4"/>
<path d="M389.28,1487.95L392.58,1491.25L389.28,1494.55L385.98,1491.25Z" fill="#3F78C4"/>
<path d="M406.35,1492.20L409.65,1495.50L406.35,1498.80L403.05,1495.50Z" fill="#3F78C4"/>
<path d="M423.43,1497.45L426.73,1500.75L423.43,1504.05L420.13,1500.75Z" fill="#3F78C4"/>
<path d="M440.50,1496.20L443.80,1499.50L440.50,1502.80L437.20,1499.50Z" fill="#3F78C4"/>
<path d="M457.58,1501.20L460.88,1504.50L457.58,1507.80L454.28,1504.50Z" fill="#3F78C4"/>
<path d="M474.66,1507.95L477.96,1511.25L474.66,1514.55L471.36,1511.25Z" fill="#3F78C4"/>
<path d="M491.73,1497.45L495.03,1500.75L491.73,1504.05L488.43,1500.75Z" fill="#3F78C4"/>
<path d="M508.81,1505.45L512.11,1508.75L508.81,1512.05L505.51,1508.75Z" fill="#3F78C4"/>
<path d="M525.88,1506.70L529.18,1510.00L525.88,1513.30L522.58,1510.00Z" fill="#3F78C4"/>
<path d="M542.96,1507.95L546.26,1511.25L542.96,1514.55L539.66,1511.25Z" fill="#3F78C4"/>
<path d="M560.03,1508.70L563.33,1512.00L560.03,1515.30L556.73,1512.00Z" fill="#3F78C4"/>
<path d="M577.11,1512.45L580.41,1515.75L577.11,1519.05L573.81,1515.75Z" fill="#3F78C4"/>
<path d="M594.19,1504.95L597.49,1508.25L594.19,1511.55L590.89,1508.25Z" fill="#3F78C4"/>
<path d="M611.26,1499.10L614.56,1502.40L611.26,1505.70L607.96,1502.40Z" fill="#3F78C4"/>
<polyline points="64.84,1505.00 81.91,1500.00 98.99,1491.20 116.07,1493.75 133.14,1493.00 150.22,1489.50 167.29,1456.25 184.37,1437.00 201.44,1430.25 218.52,1433.00 235.60,1411.25 252.67,1385.50 269.75,1374.60 286.82,1367.00 303.90,1412.00 320.97,1454.25 338.05,1461.75 355.13,1463.50 372.20,1464.50 389.28,1464.50 406.35,1465.50 423.43,1468.00 440.50,1469.50 457.58,1473.75 474.66,1474.50 491.73,1474.75 508.81,1476.75 525.88,1478.00 542.96,1480.00 560.03,1483.75 577.11,1485.50 594.19,1485.50 611.26,1485.70" fill="none" stroke="#C4393C" stroke-width="2.2" stroke-linejoin="round" stroke-linecap="round"/>
<rect x="61.64" y="1501.80" width="6.40" height="6.40" fill="#C4393C"/>
<rect x="78.71" y="1496.80" width="6.40" height="6.40" fill="#C4393C"/>
<rect x="95.79" y="1488.00" width="6.40" height="6.40" fill="#C4393C"/>
<rect x="112.87" y="1490.55" width="6.40" height="6.40" fill="#C4393C"/>
<rect x="129.94" y="1489.80" width="6.40" height="6.40" fill="#C4393C"/>
<rect x="147.02" y="1486.30" width="6.40" height="6.40" fill="#C4393C"/>
<rect x="164.09" y="1453.05" width="6.40" height="6.40" fill="#C4393C"/>
<rect x="181.17" y="1433.80" width="6.40" height="6.40" fill="#C4393C"/>
<rect x="198.24" y="1427.05" width="6.40" height="6.40" fill="#C4393C"/>
<rect x="215.32" y="1429.80" width="6.40" height="6.40" fill="#C4393C"/>
<rect x="232.40" y="1408.05" width="6.40" height="6.40" fill="#C4393C"/>
<rect x="249.47" y="1382.30" width="6.40" height="6.40" fill="#C4393C"/>
<rect x="266.55" y="1371.40" width="6.40" height="6.40" fill="#C4393C"/>
<rect x="283.62" y="1363.80" width="6.40" height="6.40" fill="#C4393C"/>
<rect x="300.70" y="1408.80" width="6.40" height="6.40" fill="#C4393C"/>
<rect x="317.77" y="1451.05" width="6.40" height="6.40" fill="#C4393C"/>
<rect x="334.85" y="1458.55" width="6.40" height="6.40" fill="#C4393C"/>
<rect x="351.93" y="1460.30" width="6.40" height="6.40" fill="#C4393C"/>
<rect x="369.00" y="1461.30" width="6.40" height="6.40" fill="#C4393C"/>
<rect x="386.08" y="1461.30" width="6.40" height="6.40" fill="#C4393C"/>
<rect x="403.15" y="1462.30" width="6.40" height="6.40" fill="#C4393C"/>
<rect x="420.23" y="1464.80" width="6.40" height="6.40" fill="#C4393C"/>
<rect x="437.30" y="1466.30" width="6.40" height="6.40" fill="#C4393C"/>
<rect x="454.38" y="1470.55" width="6.40" height="6.40" fill="#C4393C"/>
<rect x="471.46" y="1471.30" width="6.40" height="6.40" fill="#C4393C"/>
<rect x="488.53" y="1471.55" width="6.40" height="6.40" fill="#C4393C"/>
<rect x="505.61" y="1473.55" width="6.40" height="6.40" fill="#C4393C"/>
<rect x="522.68" y="1474.80" width="6.40" height="6.40" fill="#C4393C"/>
<rect x="539.76" y="1476.80" width="6.40" height="6.40" fill="#C4393C"/>
<rect x="556.83" y="1480.55" width="6.40" height="6.40" fill="#C4393C"/>
<rect x="573.91" y="1482.30" width="6.40" height="6.40" fill="#C4393C"/>
<rect x="590.99" y="1482.30" width="6.40" height="6.40" fill="#C4393C"/>
<rect x="608.06" y="1482.50" width="6.40" height="6.40" fill="#C4393C"/>
<polyline points="64.84,1496.25 81.91,1474.25 98.99,1447.80 116.07,1454.50 133.14,1461.75 150.22,1434.50 167.29,1375.75 184.37,1381.90 201.44,1347.50 218.52,1367.50 235.60,1320.75 252.67,1300.75 269.75,1260.20 286.82,1338.75 303.90,1390.00 320.97,1457.00 338.05,1480.00 355.13,1489.50 372.20,1503.75 389.28,1496.75 406.35,1501.25 423.43,1507.00 440.50,1505.50 457.58,1510.50 474.66,1518.00 491.73,1506.25 508.81,1515.00 525.88,1516.25 542.96,1517.50 560.03,1517.50 577.11,1521.75 594.19,1513.75 611.26,1505.70" fill="none" stroke="#98C040" stroke-width="2.2" stroke-linejoin="round" stroke-linecap="round"/>
<path d="M64.84,1492.95L68.14,1499.55L61.54,1499.55Z" fill="#98C040"/>
<path d="M81.91,1470.95L85.21,1477.55L78.61,1477.55Z" fill="#98C040"/>
<path d="M98.99,1444.50L102.29,1451.10L95.69,1451.10Z" fill="#98C040"/>
<path d="M116.07,1451.20L119.37,1457.80L112.77,1457.80Z" fill="#98C040"/>
<path d="M133.14,1458.45L136.44,1465.05L129.84,1465.05Z" fill="#98C040"/>
<path d="M150.22,1431.20L153.52,1437.80L146.92,1437.80Z" fill="#98C040"/>
<path d="M167.29,1372.45L170.59,1379.05L163.99,1379.05Z" fill="#98C040"/>
<path d="M184.37,1378.60L187.67,1385.20L181.07,1385.20Z" fill="#98C040"/>
<path d="M201.44,1344.20L204.74,1350.80L198.14,1350.80Z" fill="#98C040"/>
<path d="M218.52,1364.20L221.82,1370.80L215.22,1370.80Z" fill="#98C040"/>
<path d="M235.60,1317.45L238.90,1324.05L232.30,1324.05Z" fill="#98C040"/>
<path d="M252.67,1297.45L255.97,1304.05L249.37,1304.05Z" fill="#98C040"/>
<path d="M269.75,1256.90L273.05,1263.50L266.45,1263.50Z" fill="#98C040"/>
<path d="M286.82,1335.45L290.12,1342.05L283.52,1342.05Z" fill="#98C040"/>
<path d="M303.90,1386.70L307.20,1393.30L300.60,1393.30Z" fill="#98C040"/>
<path d="M320.97,1453.70L324.27,1460.30L317.67,1460.30Z" fill="#98C040"/>
<path d="M338.05,1476.70L341.35,1483.30L334.75,1483.30Z" fill="#98C040"/>
<path d="M355.13,1486.20L358.43,1492.80L351.83,1492.80Z" fill="#98C040"/>
<path d="M372.20,1500.45L375.50,1507.05L368.90,1507.05Z" fill="#98C040"/>
<path d="M389.28,1493.45L392.58,1500.05L385.98,1500.05Z" fill="#98C040"/>
<path d="M406.35,1497.95L409.65,1504.55L403.05,1504.55Z" fill="#98C040"/>
<path d="M423.43,1503.70L426.73,1510.30L420.13,1510.30Z" fill="#98C040"/>
<path d="M440.50,1502.20L443.80,1508.80L437.20,1508.80Z" fill="#98C040"/>
<path d="M457.58,1507.20L460.88,1513.80L454.28,1513.80Z" fill="#98C040"/>
<path d="M474.66,1514.70L477.96,1521.30L471.36,1521.30Z" fill="#98C040"/>
<path d="M491.73,1502.95L495.03,1509.55L488.43,1509.55Z" fill="#98C040"/>
<path d="M508.81,1511.70L512.11,1518.30L505.51,1518.30Z" fill="#98C040"/>
<path d="M525.88,1512.95L529.18,1519.55L522.58,1519.55Z" fill="#98C040"/>
<path d="M542.96,1514.20L546.26,1520.80L539.66,1520.80Z" fill="#98C040"/>
<path d="M560.03,1514.20L563.33,1520.80L556.73,1520.80Z" fill="#98C040"/>
<path d="M577.11,1518.45L580.41,1525.05L573.81,1525.05Z" fill="#98C040"/>
<path d="M594.19,1510.45L597.49,1517.05L590.89,1517.05Z" fill="#98C040"/>
<path d="M611.26,1502.40L614.56,1509.00L607.96,1509.00Z" fill="#98C040"/>
<line x1="119" y1="1193.8" x2="137.4" y2="1193.8" stroke="#3F78C4" stroke-width="2.2"/>
<path d="M128.20,1190.80L131.20,1193.80L128.20,1196.80L125.20,1193.80Z" fill="#3F78C4"/>
<line x1="262" y1="1193.8" x2="279.5" y2="1193.8" stroke="#C4393C" stroke-width="2.2"/>
<rect x="267.70" y="1190.80" width="6.00" height="6.00" fill="#C4393C"/>
<line x1="385.2" y1="1193.8" x2="402.8" y2="1193.8" stroke="#98C040" stroke-width="2.2"/>
<path d="M394.00,1190.80L397.00,1196.80L391.00,1196.80Z" fill="#98C040"/>
<g class="cb" font-size="8" text-anchor="end">
<text x="50.0" y="1534.4">300.0</text><text x="50.0" y="1523.7">320.0</text><text x="50.0" y="1512.9">340.0</text><text x="50.0" y="1502.2">360.0</text><text x="50.0" y="1491.5">380.0</text><text x="50.0" y="1480.7">400.0</text><text x="50.0" y="1470.0">420.0</text><text x="50.0" y="1459.3">440.0</text><text x="50.0" y="1448.5">460.0</text><text x="50.0" y="1437.8">480.0</text><text x="50.0" y="1427.1">500.0</text><text x="50.0" y="1416.3">520.0</text><text x="50.0" y="1405.6">540.0</text><text x="50.0" y="1394.8">560.0</text><text x="50.0" y="1384.1">580.0</text><text x="50.0" y="1373.4">600.0</text><text x="50.0" y="1362.6">620.0</text><text x="50.0" y="1351.9">640.0</text><text x="50.0" y="1341.2">660.0</text><text x="50.0" y="1330.4">680.0</text><text x="50.0" y="1319.7">700.0</text><text x="50.0" y="1309.0">720.0</text><text x="50.0" y="1298.2">740.0</text><text x="50.0" y="1287.5">760.0</text><text x="50.0" y="1276.8">780.0</text><text x="50.0" y="1266.0">800.0</text><text x="50.0" y="1255.3">820.0</text><text x="50.0" y="1244.6">840.0</text><text x="50.0" y="1233.8">860.0</text><text x="50.0" y="1223.1">880.0</text><text x="50.0" y="1212.4">900.0</text>
</g>
<g class="cb" font-size="8" text-anchor="start">
<text x="625.6" y="1534.4">300.0</text><text x="625.6" y="1523.7">320.0</text><text x="625.6" y="1512.9">340.0</text><text x="625.6" y="1502.2">360.0</text><text x="625.6" y="1491.5">380.0</text><text x="625.6" y="1480.7">400.0</text><text x="625.6" y="1470.0">420.0</text><text x="625.6" y="1459.3">440.0</text><text x="625.6" y="1448.5">460.0</text><text x="625.6" y="1437.8">480.0</text><text x="625.6" y="1427.1">500.0</text><text x="625.6" y="1416.3">520.0</text><text x="625.6" y="1405.6">540.0</text><text x="625.6" y="1394.8">560.0</text><text x="625.6" y="1384.1">580.0</text><text x="625.6" y="1373.4">600.0</text><text x="625.6" y="1362.6">620.0</text><text x="625.6" y="1351.9">640.0</text><text x="625.6" y="1341.2">660.0</text><text x="625.6" y="1330.4">680.0</text><text x="625.6" y="1319.7">700.0</text><text x="625.6" y="1309.0">720.0</text><text x="625.6" y="1298.2">740.0</text><text x="625.6" y="1287.5">760.0</text><text x="625.6" y="1276.8">780.0</text><text x="625.6" y="1266.0">800.0</text><text x="625.6" y="1255.3">820.0</text><text x="625.6" y="1244.6">840.0</text><text x="625.6" y="1233.8">860.0</text><text x="625.6" y="1223.1">880.0</text><text x="625.6" y="1212.4">900.0</text>
</g>
<g class="c"><text x="646.5" y="1185.0" font-size="8.2" text-anchor="middle">点</text></g>
<g class="c" font-size="8.2" text-anchor="end">
<text x="67.79" y="1537.4" transform="rotate(-90,67.79,1537.4)">6月末</text>
<text x="84.87" y="1537.4" transform="rotate(-90,84.87,1537.4)">7月末</text>
<text x="101.94" y="1537.4" transform="rotate(-90,101.94,1537.4)">8月末</text>
<text x="119.02" y="1537.4" transform="rotate(-90,119.02,1537.4)">9月末</text>
<text x="136.09" y="1537.4" transform="rotate(-90,136.09,1537.4)">10月末</text>
<text x="153.17" y="1537.4" transform="rotate(-90,153.17,1537.4)">11月末</text>
<text x="170.24" y="1537.4" transform="rotate(-90,170.24,1537.4)">12月末</text>
<text x="187.32" y="1537.4" transform="rotate(-90,187.32,1537.4)">1月末</text>
<text x="204.40" y="1537.4" transform="rotate(-90,204.40,1537.4)">2月末</text>
<text x="221.47" y="1537.4" transform="rotate(-90,221.47,1537.4)">3月末</text>
<text x="238.55" y="1537.4" transform="rotate(-90,238.55,1537.4)">4月末</text>
<text x="255.62" y="1537.4" transform="rotate(-90,255.62,1537.4)">5月末</text>
<text x="272.70" y="1537.4" transform="rotate(-90,272.70,1537.4)">6月末</text>
<text x="289.77" y="1537.4" transform="rotate(-90,289.77,1537.4)">7月末</text>
<text x="306.85" y="1537.4" transform="rotate(-90,306.85,1537.4)">8月末</text>
<text x="323.93" y="1537.4" transform="rotate(-90,323.93,1537.4)">9月末</text>
<text x="341.00" y="1537.4" transform="rotate(-90,341.00,1537.4)">10月末</text>
<text x="358.08" y="1537.4" transform="rotate(-90,358.08,1537.4)">11月1日</text>
<text x="375.15" y="1537.4" transform="rotate(-90,375.15,1537.4)">11月2日</text>
<text x="392.23" y="1537.4" transform="rotate(-90,392.23,1537.4)">11月3日</text>
<text x="409.31" y="1537.4" transform="rotate(-90,409.31,1537.4)">11月4日</text>
<text x="426.38" y="1537.4" transform="rotate(-90,426.38,1537.4)">11月5日</text>
<text x="443.46" y="1537.4" transform="rotate(-90,443.46,1537.4)">11月8日</text>
<text x="460.53" y="1537.4" transform="rotate(-90,460.53,1537.4)">11月9日</text>
<text x="477.61" y="1537.4" transform="rotate(-90,477.61,1537.4)">11月10日</text>
<text x="494.68" y="1537.4" transform="rotate(-90,494.68,1537.4)">11月11日</text>
<text x="511.76" y="1537.4" transform="rotate(-90,511.76,1537.4)">11月12日</text>
<text x="528.84" y="1537.4" transform="rotate(-90,528.84,1537.4)">11月15日</text>
<text x="545.91" y="1537.4" transform="rotate(-90,545.91,1537.4)">11月16日</text>
<text x="562.99" y="1537.4" transform="rotate(-90,562.99,1537.4)">11月17日</text>
<text x="580.06" y="1537.4" transform="rotate(-90,580.06,1537.4)">11月18日</text>
<text x="597.14" y="1537.4" transform="rotate(-90,597.14,1537.4)">11月19日</text>
<text x="614.21" y="1537.4" transform="rotate(-90,614.21,1537.4)">11月22日</text>
</g>
<g class="cb" font-size="8" text-anchor="middle"><text x="116.1" y="1587.3">2020年</text><text x="397.8" y="1587.3">2021年</text></g>
<g class="c"><text x="140.0" y="1196.7" font-size="7.6">CIOPI</text><text x="160.3" y="1196.9" font-size="8.65">中国铁矿石价格指数</text><text x="283.6" y="1196.9" font-size="8.65">国产铁矿石价格指数</text><text x="407.4" y="1196.9" font-size="8.65">进口铁矿石价格指数</text></g>
<g class="d" font-size="8">
<text x="95.8" y="1441.1" fill="#00B050">456.31</text>
<text x="95.8" y="1472.1" fill="#0A7AD0">443.45</text>
<text x="92.5" y="1510.9" fill="#D8203A">375.39</text>
<text x="170.0" y="1359.6" fill="#00B050">578.71</text>
<text x="178.8" y="1404.6" fill="#0A7AD0">562.45</text>
<text x="184.2" y="1451.1" fill="#D8203A">476.42</text>
<text x="279.5" y="1262.9" fill="#00B050">805.44</text>
<text x="279.5" y="1281.1" fill="#0A7AD0">771.62</text>
<text x="258.0" y="1363.4" fill="#D8203A">592.71</text>
<text x="313.8" y="1385.4" fill="#00B050">563.86</text>
<text x="313.0" y="1396.1" fill="#0A7AD0">557.31</text>
<text x="272.5" y="1424.9" fill="#D8203A">522.69</text>
<text x="593.8" y="1476.6" fill="#D8203A">385.37</text>
<text x="587.5" y="1499.6" fill="#0A7AD0">354.05</text>
<text x="593.8" y="1521.1" fill="#00B050">348.13</text>
</g>
</svg>
</body></html>
